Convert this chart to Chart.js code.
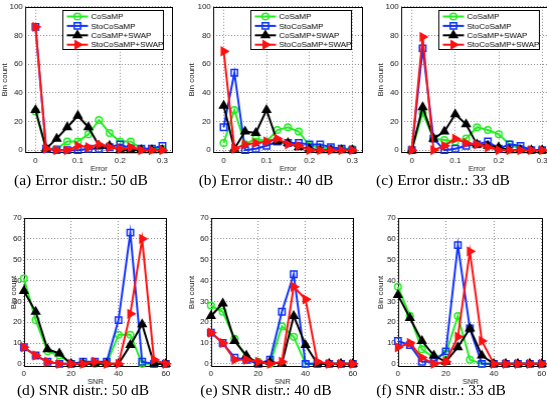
<!DOCTYPE html>
<html>
<head>
<meta charset="utf-8">
<script src="https://cdn.jsdelivr.net/npm/chart.js@4.4.0/dist/chart.umd.min.js"></script>
<style>
body{margin:0;background:#fff;width:547px;height:403px;overflow:hidden;position:relative}
canvas{position:absolute}
.cap{position:absolute;font-family:"Liberation Serif",serif;font-size:15.5px;line-height:18px;white-space:nowrap;transform:translateX(-50%);color:#000}
</style>
</head>
<body>
<script>
// DATA

const seriesNames=["CoSaMP","StoCoSaMP","CoSaMP+SWAP","StoCoSaMP+SWAP"]

const errBins=[0,0.025,0.05,0.075,0.1,0.125,0.15,0.175,0.2,0.225,0.25,0.275,0.3]
const snrBins=[0,5,10,15,20,25,30,35,40,45,50,55,60]

const errTicks=[0,0.1,0.2,0.3]
const errCountTicks=[0,20,40,60,80,100]
const snrTicks=[0,20,40,60]
const snrCountTicks=[0,10,20,30,40,50,60,70]

// (a) error, 50 dB
const errA_cosamp=[27,1,1,6,6,11,21,12,6,6,1,1,1]
const errA_sto=[86,1,0,0,0,1,1,2,4,1,1,1,3]
const errA_swap=[28,1,8,16,24,16,3,3,0,0,0,0,0]
const errA_stoswap=[86,1,0,0,3,2,4,2,1,2,0,0,0]

// (b) error, 40 dB
const errB_cosamp=[5,28,4,8,6,14,16,13,3,2,1,1,1]
const errB_sto=[16,54,0,1,3,6,5,5,4,4,2,1,0]
const errB_swap=[31,1,13,12,28,6,5,2,1,0,0,0,0]
const errB_stoswap=[69,1,4,5,6,8,4,3,0,0,0,0,0]

// (c) error, 33 dB
const errC_cosamp=[0,26,8,7,6,8,16,14,11,4,1,0,0]
const errC_sto=[0,71,8,0,1,3,4,6,1,4,3,0,0]
const errC_swap=[0,30,8,13,25,18,4,3,2,0,0,0,0]
const errC_stoswap=[0,79,0,3,8,5,4,2,0,0,0,0,0]

// (d) SNR, 50 dB
const snrD_cosamp=[41,21,6,4,0,0,0,0,14,14,0,0,0]
const snrD_sto=[8,4,1,0,0,1,1,1,21,63,1,0,0]
const snrD_swap=[35,25,7,5,0,0,0,0,0,9,19,0,0]
const snrD_stoswap=[8,4,1,0,0,0,1,0,0,24,60,2,0]

// (e) SNR, 40 dB
const snrE_cosamp=[28,25,12,3,1,0,18,13,0,0,0,0,0]
const snrE_sto=[15,10,3,2,0,2,25,43,0,0,0,0,0]
const snrE_swap=[23,29,11,4,0,1,0,23,9,0,0,0,0]
const snrE_stoswap=[15,10,2,2,1,0,1,37,31,1,0,0,0]

// (f) SNR, 33 dB
const snrF_cosamp=[37,23,7,3,5,23,2,0,0,0,0,0,0]
const snrF_sto=[11,9,1,1,6,57,17,0,0,0,0,0,0]
const snrF_swap=[33,22,11,4,1,8,17,4,0,0,0,0,0]
const snrF_stoswap=[8,10,3,0,1,13,54,11,0,0,0,0,0]


// STYLES

const styles=[
{color:"#22ee22",fill:"rgba(255,255,255,0)",pointStyle:"circle",radius:3.3,rotation:0,order:3},
{color:"#1133ff",fill:"rgba(255,255,255,0)",pointStyle:"rect",radius:4.5,rotation:0,order:2},
{color:"#000000",fill:"#000000",pointStyle:"triangle",radius:4.5,rotation:0,order:1},
{color:"#ff1111",fill:"#ff1111",pointStyle:"triangle",radius:4.5,rotation:90,order:0}
]

const font="'Liberation Sans', Arial, sans-serif"

const plots=[
{series:[errA_cosamp,errA_sto,errA_swap,errA_stoswap],kind:"err",L:25,T:5,W:148,H:148,titleC:5,cap:"(a) Error distr.: 50 dB",capX:81,capY:171},
{series:[errB_cosamp,errB_sto,errB_swap,errB_stoswap],kind:"err",L:213,T:5,W:150,H:148,titleC:192,cap:"(b) Error distr.: 40 dB",capX:266,capY:171},
{series:[errC_cosamp,errC_sto,errC_swap,errC_stoswap],kind:"err",L:401,T:5,W:152,H:148,titleC:381,cap:"(c) Error distr.: 33 dB",capX:443,capY:171},
{series:[snrD_cosamp,snrD_sto,snrD_swap,snrD_stoswap],kind:"snr",L:24,T:218,W:143,H:149,titleC:14,cap:"(d) SNR distr.: 50 dB",capX:83,capY:381},
{series:[snrE_cosamp,snrE_sto,snrE_swap,snrE_stoswap],kind:"snr",L:211,T:218,W:143,H:149,titleC:192,cap:"(e) SNR distr.: 40 dB",capX:266,capY:381},
{series:[snrF_cosamp,snrF_sto,snrF_swap,snrF_stoswap],kind:"snr",L:398,T:218,W:145,H:149,titleC:381,cap:"(f) SNR distr.: 33 dB",capX:441,capY:381}
]


// PLUGINS

const boxPlugin={
id:"box",
beforeDatasetsDraw(chart){
const a=chart.chartArea
const ctx=chart.ctx
ctx.save()
ctx.strokeStyle="#000"
ctx.lineWidth=1
ctx.strokeRect(Math.round(a.left)+0.5,Math.round(a.top)+0.5,Math.round(a.width)-1,Math.round(a.height)-1)
ctx.restore()
}
}

const legendPlugin={
id:"matLegend",
afterDatasetsDraw(chart){
const a=chart.chartArea
const ctx=chart.ctx
const x0=Math.round(a.left)+37.5
const y0=Math.round(a.top)+3.5
ctx.save()
ctx.fillStyle="#fff"
ctx.fillRect(x0,y0,100,39)
ctx.strokeStyle="#000"
ctx.lineWidth=1
ctx.strokeRect(x0,y0,100,39)
seriesNames.forEach((name,i)=>{
const s=styles[i]
const y=y0+6+i*9.4
ctx.strokeStyle=s.color
ctx.lineWidth=2
ctx.beginPath()
ctx.moveTo(x0+4,y)
ctx.lineTo(x0+25,y)
ctx.stroke()
ctx.fillStyle=s.fill
ctx.lineWidth=1.5
Chart.helpers.drawPoint(ctx,{pointStyle:s.pointStyle,radius:s.radius,rotation:s.rotation,borderWidth:1.5},x0+14.5,y)
ctx.fillStyle="#000"
ctx.font="8px "+font
ctx.textBaseline="middle"
ctx.textAlign="left"
ctx.fillText(name,x0+28,y+0.5)
})
ctx.restore()
}
}


// CHARTS

plots.forEach(p=>{

const isErr=p.kind==="err"
const bins=isErr?errBins:snrBins
const xTicks=isErr?errTicks:snrTicks
const yTicks=isErr?errCountTicks:snrCountTicks

const left=p.titleC-4.8
const yw=p.L-left
const pt=isErr?5:8
const pr=8
const xh=isErr?20:19

const cv=document.createElement("canvas")
cv.style.left=left+"px"
cv.style.top=(p.T-pt)+"px"
cv.style.width=(yw+p.W+pr)+"px"
cv.style.height=(pt+p.H+xh)+"px"
cv.width=yw+p.W+pr
cv.height=pt+p.H+xh
document.body.appendChild(cv)

const datasets=p.series.map((vals,i)=>{
const s=styles[i]
return{
label:seriesNames[i],
data:bins.map((x,j)=>({x:x,y:vals[j]})),
borderColor:s.color,
backgroundColor:s.fill,
pointBackgroundColor:s.fill,
pointBorderColor:s.color,
pointStyle:s.pointStyle,
pointRadius:s.radius,
pointRotation:s.rotation,
pointBorderWidth:1.5,
borderWidth:2,
tension:0,
clip:false,
order:s.order
}
})

const tickFont={size:8,family:font}

new Chart(cv,{
type:"line",
data:{datasets:datasets},
options:{
responsive:false,
animation:false,
devicePixelRatio:1,
layout:{padding:{top:pt,right:pr,left:0,bottom:0}},
plugins:{legend:{display:false},tooltip:{enabled:false}},
scales:{
x:{
type:"linear",
min:isErr?-0.025:0,
max:isErr?0.325:60.5,
afterBuildTicks:s=>{s.ticks=xTicks.map(v=>({value:v}))},
afterFit:s=>{s.height=xh},
grid:{color:"#8a8a8a",drawTicks:false,lineWidth:1},
border:{display:false,dash:[1,2]},
ticks:{padding:isErr?3:2,font:tickFont,color:"#222",maxRotation:0,autoSkip:false,callback:v=>String(v)},
title:{display:true,text:isErr?"Error":"SNR",font:{size:7.5,family:font},color:"#222",padding:0}
},
y:{
type:"linear",
min:isErr?-2:-1.5,
max:isErr?100:70,
afterBuildTicks:s=>{s.ticks=yTicks.map(v=>({value:v}))},
afterFit:s=>{s.width=yw},
grid:{color:"#8a8a8a",drawTicks:false,lineWidth:1},
border:{display:false,dash:[1,2]},
ticks:{padding:2,font:tickFont,color:"#222",autoSkip:false,callback:v=>String(v)},
title:{display:true,text:"Bin count",font:{size:8,family:font},color:"#222",padding:0}
}
}
},
plugins:isErr?[boxPlugin,legendPlugin]:[boxPlugin]
})

const cap=document.createElement("div")
cap.className="cap"
cap.style.left=p.capX+"px"
cap.style.top=p.capY+"px"
cap.textContent=p.cap
document.body.appendChild(cap)

})
</script>
</body>
</html>
